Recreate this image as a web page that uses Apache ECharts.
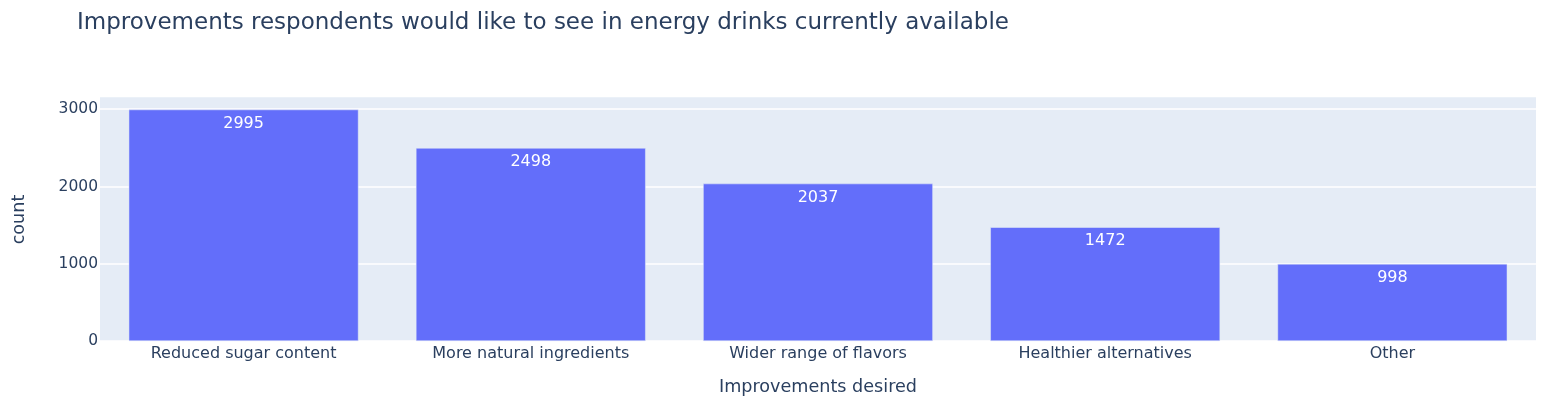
<!DOCTYPE html>
<html><head><meta charset="utf-8">
<script src="https://cdn.jsdelivr.net/npm/echarts@6/dist/echarts.min.js"></script>
<style>html,body{margin:0;padding:0;background:#fff}#c{width:1546px;height:410px}</style>
</head><body><div id="c"></div>
<script>
const categories = ["Reduced sugar content","More natural ingredients","Wider range of flavors","Healthier alternatives","Other"];
const counts = [2995, 2498, 2037, 1472, 998];
const yTicks = [0, 1000, 2000, 3000];
const yMax = 3145;

const font = '"DejaVu Sans", Verdana, sans-serif';
const chart = echarts.init(document.getElementById('c'));
chart.setOption({
  animation: false,
  title: {text: 'Improvements respondents would like to see in energy drinks currently available', left: 72, top: 7,
    textStyle: {fontFamily: font, fontSize: 23, fontWeight: 'normal', color: '#2a3f5f'}},
  grid: {left: 100, right: 10, top: 98, bottom: 69, show: true, backgroundColor: '#E5ECF6', borderWidth: 0},
  xAxis: {type: 'category', data: categories, name: 'Improvements desired', nameLocation: 'middle', nameGap: 37,
    nameTextStyle: {fontFamily: font, fontSize: 17.6, color: '#2a3f5f'},
    axisLine: {show: false}, axisTick: {show: false},
    axisLabel: {fontFamily: font, fontSize: 16, color: '#2a3f5f', margin: 5}},
  yAxis: {type: 'value', min: 0, max: yMax, interval: 1000, name: 'count', nameLocation: 'middle', nameGap: 72,
    nameTextStyle: {fontFamily: font, fontSize: 17.6, color: '#2a3f5f'},
    axisLine: {show: false}, axisTick: {show: false},
    axisLabel: {fontFamily: font, fontSize: 15.5, color: '#2a3f5f', margin: 2, showMaxLabel: false,
      formatter: v => yTicks.includes(v) ? String(v) : ''},
    splitLine: {lineStyle: {color: ['#ffffff','#ffffff','#ffffff','#ffffff','#E5ECF6'], width: 1.5}}},
  series: [{type: 'bar', data: counts, barCategoryGap: '20%',
    itemStyle: {color: '#636EFA', borderColor: '#E5ECF6', borderWidth: 0.5},
    label: {show: true, position: 'insideTop', distance: 6, color: '#ffffff', fontFamily: font, fontSize: 16}}]
});
</script></body></html>
